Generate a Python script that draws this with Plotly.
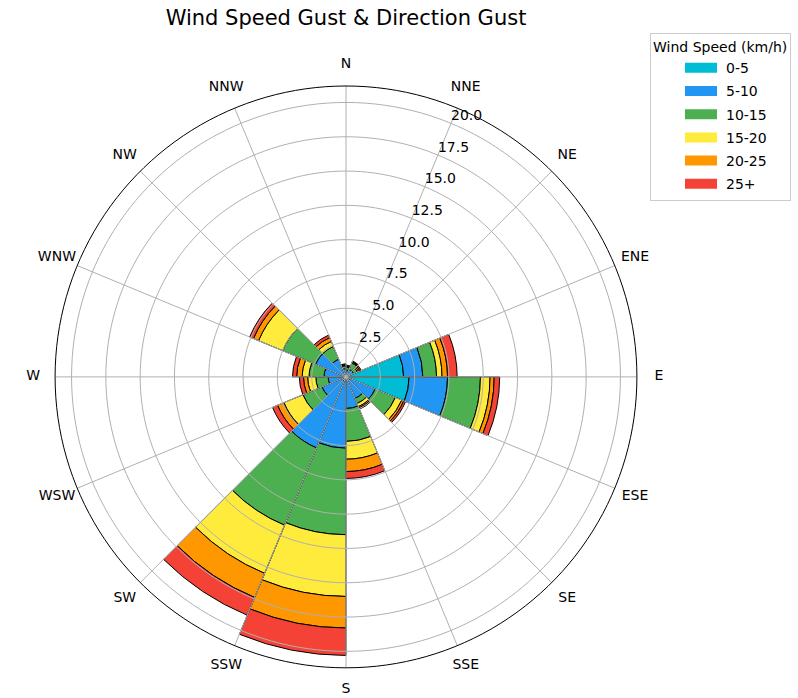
import plotly.graph_objects as go

# Compass sectors (each bar spans one 22.5° sector clockwise from its direction)
directions = ["N", "NNE", "NE", "ENE", "E", "ESE", "SE", "SSE",
              "S", "SSW", "SW", "WSW", "W", "WNW", "NW", "NNW"]
sector_start = [i * 22.5 for i in range(16)]

speed_bins = ["0-5", "5-10", "10-15", "15-20", "20-25", "25+"]
bin_colors = ["#00BCD4", "#2196F3", "#4CAF50", "#FFEB3B", "#FF9800", "#F44336"]

# Frequency per speed bin for each direction (stacked outward)
speed_0_5   = [0.10, 0.10, 0.10, 4.20, 4.60, 0.30, 0.20, 0.20, 0.30, 0.30, 0.20, 0.20, 0.20, 0.20, 0.10, 0.10]
speed_5_10  = [0.40, 0.50, 0.50, 1.40, 2.80, 2.00, 1.50, 2.10, 4.90, 5.30, 1.70, 1.10, 1.40, 2.20, 1.30, 0.50]
speed_10_15 = [0.20, 0.50, 0.30, 1.00, 2.40, 1.60, 0.40, 2.40, 6.30, 6.10, 1.50, 0.90, 1.10, 2.60, 1.00, 0.20]
speed_15_20 = [0.05, 0.05, 0.10, 0.40, 0.70, 0.50, 0.25, 1.30, 4.50, 3.80, 1.50, 0.60, 0.50, 1.90, 0.40, 0.05]
speed_20_25 = [0.05, 0.05, 0.10, 0.40, 0.30, 0.15, 0.10, 0.90, 2.30, 1.90, 0.50, 0.30, 0.40, 0.40, 0.30, 0.05]
speed_25_up = [0.05, 0.05, 0.10, 0.70, 0.40, 0.15, 0.10, 0.50, 2.00, 1.40, 0.40, 0.30, 0.30, 0.30, 0.20, 0.05]

series = [speed_0_5, speed_5_10, speed_10_15, speed_15_20, speed_20_25, speed_25_up]

radial_ticks = [2.5, 5.0, 7.5, 10.0, 12.5, 15.0, 17.5, 20.0]
radial_labels = [f"{v:.1f}" for v in radial_ticks]
radial_max = 21.2                 # rim of the rose
compass_label_r = 22.8            # compass names centred just outside the rim
outer_r = 23.4                    # extra room so the names stay inside the subplot
label_bearing = 22.5              # radial labels sit along the NNE spoke

FONT = "DejaVu Sans"
GRID = "#b0b0b0"

# Geometry of the polar area (pixels): centre and radius of the rim
W, H = 798, 698
cx, cy_from_bottom, rim_px = 346, 321, 291
outer_px = rim_px * outer_r / radial_max

fig = go.Figure()
for name, color, values in zip(speed_bins, bin_colors, series):
    fig.add_trace(go.Barpolar(
        r=values,
        theta=[a + 11.25 for a in sector_start],
        width=[22.5] * len(values),
        name=name,
        showlegend=False,
        marker=dict(color=color, line=dict(color="black", width=1)),
        hoverinfo="skip",
    ))

# Grid drawn over the bars: range rings and direction spokes
ring_theta = list(range(0, 361, 2))
for rv in radial_ticks:
    fig.add_trace(go.Scatterpolar(
        r=[rv] * len(ring_theta), theta=ring_theta, mode="lines",
        line=dict(color=GRID, width=1), showlegend=False, hoverinfo="skip",
    ))
for a in sector_start:
    fig.add_trace(go.Scatterpolar(
        r=[0, radial_max], theta=[a, a], mode="lines",
        line=dict(color=GRID, width=1), showlegend=False, hoverinfo="skip",
    ))

# Rim of the rose
fig.add_trace(go.Scatterpolar(
    r=[radial_max] * len(ring_theta), theta=ring_theta, mode="lines",
    line=dict(color="black", width=1), showlegend=False, hoverinfo="skip",
))

# Radial value labels, horizontal, just outside each ring on the NNE spoke
fig.add_trace(go.Scatterpolar(
    r=radial_ticks, theta=[label_bearing] * len(radial_ticks),
    mode="text", text=radial_labels, textposition="top right",
    textfont=dict(family=FONT, size=14, color="black"),
    showlegend=False, hoverinfo="skip", cliponaxis=False,
))

# Compass direction names centred around the rim
fig.add_trace(go.Scatterpolar(
    r=[compass_label_r] * len(directions), theta=sector_start,
    mode="text", text=directions, textposition="middle center",
    textfont=dict(family=FONT, size=14, color="black"),
    showlegend=False, hoverinfo="skip", cliponaxis=False,
))

# Legend keys: wide colour patches (dash pattern leaves a gap before the patch)
for name, color in zip(speed_bins, bin_colors):
    fig.add_trace(go.Scatterpolar(
        r=[None], theta=[None], mode="lines", name=name, legendgroup=name,
        line=dict(color=color, width=12, dash="0px,29px,32px,300px"),
        hoverinfo="skip",
    ))

fig.update_layout(
    width=W,
    height=H,
    margin=dict(l=0, r=0, t=0, b=0),
    paper_bgcolor="white",
    font=dict(family=FONT, size=14, color="black"),
    title=dict(
        text="Wind Speed Gust & Direction Gust",
        x=cx / W, xanchor="center", xref="paper",
        y=1 - 18 / H, yanchor="middle", yref="container",
        font=dict(family=FONT, size=21, color="black"),
    ),
    polar=dict(
        barmode="stack",
        bgcolor="rgba(0,0,0,0)",
        domain=dict(x=[(cx - outer_px) / W, (cx + outer_px) / W],
                    y=[max(0, (cy_from_bottom - outer_px) / H),
                       (cy_from_bottom + outer_px) / H]),
        angularaxis=dict(
            direction="clockwise",
            rotation=90,
            tickmode="array",
            tickvals=sector_start,
            showticklabels=False,
            ticks="",
            showline=False,
            showgrid=False,
        ),
        radialaxis=dict(
            range=[0, outer_r],
            tickmode="array",
            tickvals=radial_ticks,
            showticklabels=False,
            angle=90 - label_bearing,
            showline=False,
            ticks="",
            showgrid=False,
        ),
    ),
    legend=dict(
        title=dict(text="Wind Speed (km/h)", font=dict(family=FONT, size=14)),
        x=650 / W, xanchor="left",
        y=1 - 33 / H, yanchor="top",
        bordercolor="#cccccc", borderwidth=1,
        bgcolor="white",
        font=dict(family=FONT, size=14),
        traceorder="grouped",
        tracegroupgap=2,
        itemwidth=65,
    ),
)

fig.write_html("out.html")
